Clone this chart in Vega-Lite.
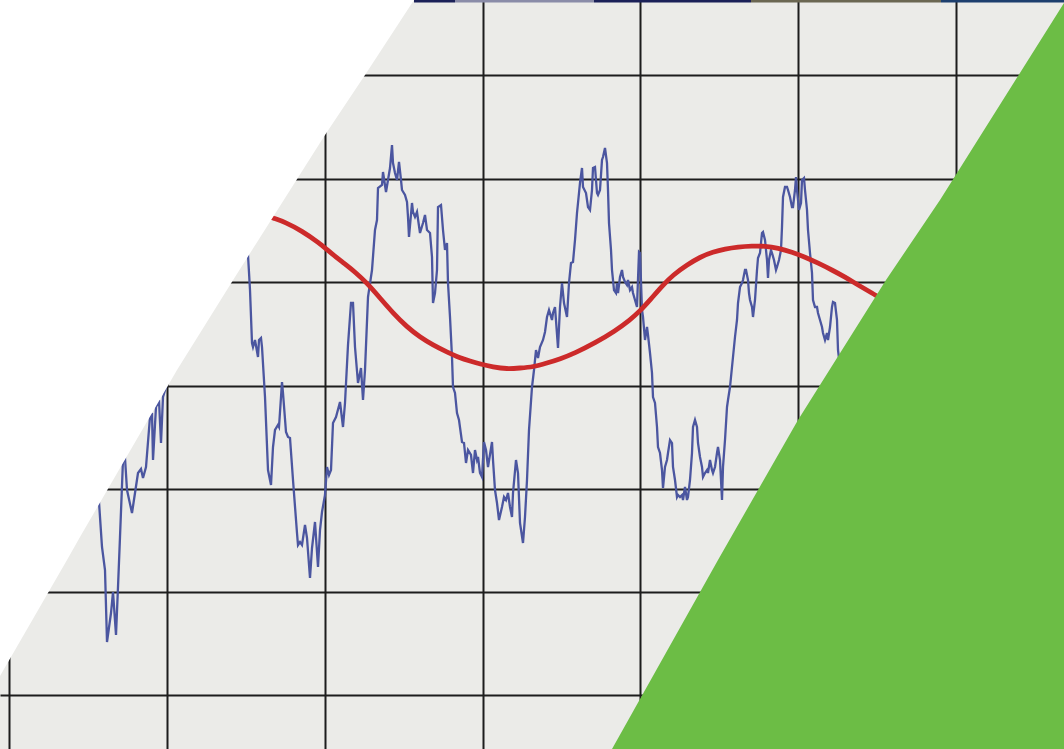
{
  "$schema": "https://vega.github.io/schema/vega-lite/v6.json",
  "autosize": {"type": "fit", "contains": "padding"},
  "width": 1064,
  "height": 749,
  "padding": 0,
  "background": "#ebebe8",
  "config": {"view": {"stroke": null, "fill": "#ebebe8"}},
  "datasets": {
    "signal": [
      {"t": 90, "v": 480}, {"t": 95, "v": 492},
      {"t": 99, "v": 502}, {"t": 102, "v": 547}, {"t": 105, "v": 570}, {"t": 107, "v": 642}, {"t": 111, "v": 613}, {"t": 113, "v": 592}, {"t": 116, "v": 635}, {"t": 118, "v": 587}, {"t": 120, "v": 537}, {"t": 123, "v": 460}, {"t": 125, "v": 458}, {"t": 127, "v": 490}, {"t": 132, "v": 513}, {"t": 135, "v": 493}, {"t": 138, "v": 473}, {"t": 141, "v": 469}, {"t": 143, "v": 478}, {"t": 146, "v": 467}, {"t": 150, "v": 417}, {"t": 152, "v": 413}, {"t": 153, "v": 460}, {"t": 156, "v": 407}, {"t": 159, "v": 400}, {"t": 161, "v": 443}, {"t": 163, "v": 397}, {"t": 166, "v": 387},
      {"t": 170, "v": 370}, {"t": 180, "v": 345}, {"t": 190, "v": 320}, {"t": 200, "v": 300}, {"t": 210, "v": 290}, {"t": 220, "v": 270}, {"t": 230, "v": 262}, {"t": 240, "v": 250},
      {"t": 248, "v": 255}, {"t": 250, "v": 290}, {"t": 252, "v": 343}, {"t": 253, "v": 347}, {"t": 255, "v": 340}, {"t": 258, "v": 357}, {"t": 259, "v": 340}, {"t": 261, "v": 338}, {"t": 262, "v": 347}, {"t": 265, "v": 397}, {"t": 268, "v": 470}, {"t": 271, "v": 485}, {"t": 273, "v": 447}, {"t": 275, "v": 430}, {"t": 278, "v": 425}, {"t": 279, "v": 427}, {"t": 282, "v": 382}, {"t": 283, "v": 393}, {"t": 286, "v": 432}, {"t": 288, "v": 437}, {"t": 290, "v": 438}, {"t": 293, "v": 480}, {"t": 297, "v": 533}, {"t": 298, "v": 545}, {"t": 300, "v": 542}, {"t": 302, "v": 545}, {"t": 305, "v": 525}, {"t": 307, "v": 538}, {"t": 310, "v": 578}, {"t": 312, "v": 548}, {"t": 315, "v": 522}, {"t": 318, "v": 567}, {"t": 320, "v": 530}, {"t": 322, "v": 512}, {"t": 325, "v": 495}, {"t": 327, "v": 467}, {"t": 329, "v": 475}, {"t": 331, "v": 470}, {"t": 333, "v": 423}, {"t": 336, "v": 417}, {"t": 340, "v": 402}, {"t": 343, "v": 427}, {"t": 345, "v": 403}, {"t": 348, "v": 345}, {"t": 351, "v": 303}, {"t": 353, "v": 303},
      {"t": 355, "v": 347}, {"t": 358, "v": 383}, {"t": 361, "v": 368}, {"t": 363, "v": 400}, {"t": 365, "v": 370}, {"t": 368, "v": 297}, {"t": 372, "v": 270}, {"t": 375, "v": 230}, {"t": 377, "v": 220}, {"t": 378, "v": 188}, {"t": 382, "v": 185}, {"t": 383, "v": 172}, {"t": 386, "v": 192}, {"t": 388, "v": 180}, {"t": 390, "v": 168}, {"t": 392, "v": 145}, {"t": 393, "v": 163}, {"t": 395, "v": 173}, {"t": 397, "v": 180}, {"t": 399, "v": 162}, {"t": 401, "v": 180}, {"t": 402, "v": 190}, {"t": 405, "v": 195}, {"t": 407, "v": 202}, {"t": 408, "v": 217}, {"t": 409, "v": 237}, {"t": 412, "v": 203}, {"t": 413, "v": 212}, {"t": 415, "v": 217}, {"t": 417, "v": 212}, {"t": 420, "v": 233}, {"t": 423, "v": 223}, {"t": 425, "v": 215}, {"t": 427, "v": 230}, {"t": 430, "v": 233}, {"t": 432, "v": 257}, {"t": 433, "v": 303}, {"t": 435, "v": 293}, {"t": 437, "v": 270}, {"t": 438, "v": 207}, {"t": 441, "v": 205}, {"t": 443, "v": 230}, {"t": 445, "v": 250}, {"t": 447, "v": 243}, {"t": 448, "v": 283}, {"t": 450, "v": 317}, {"t": 452, "v": 357}, {"t": 453, "v": 387},
      {"t": 455, "v": 393}, {"t": 457, "v": 413}, {"t": 459, "v": 420}, {"t": 462, "v": 442}, {"t": 464, "v": 443}, {"t": 466, "v": 463}, {"t": 468, "v": 450}, {"t": 471, "v": 455}, {"t": 473, "v": 473}, {"t": 475, "v": 450}, {"t": 477, "v": 460}, {"t": 478, "v": 457}, {"t": 480, "v": 473}, {"t": 482, "v": 477}, {"t": 484, "v": 442}, {"t": 486, "v": 450}, {"t": 488, "v": 467}, {"t": 492, "v": 442}, {"t": 493, "v": 460}, {"t": 495, "v": 490}, {"t": 497, "v": 503}, {"t": 499, "v": 520}, {"t": 502, "v": 507}, {"t": 504, "v": 497}, {"t": 506, "v": 500}, {"t": 508, "v": 493}, {"t": 510, "v": 507}, {"t": 512, "v": 517}, {"t": 513, "v": 493}, {"t": 516, "v": 460}, {"t": 518, "v": 473}, {"t": 520, "v": 523}, {"t": 523, "v": 543}, {"t": 525, "v": 517}, {"t": 527, "v": 480}, {"t": 529, "v": 430}, {"t": 532, "v": 387}, {"t": 534, "v": 370}, {"t": 536, "v": 350}, {"t": 538, "v": 358}, {"t": 540, "v": 347}, {"t": 543, "v": 340}, {"t": 545, "v": 332}, {"t": 547, "v": 317}, {"t": 549, "v": 310}, {"t": 552, "v": 320}, {"t": 553, "v": 313},
      {"t": 555, "v": 307}, {"t": 558, "v": 348}, {"t": 560, "v": 307}, {"t": 562, "v": 283}, {"t": 564, "v": 303}, {"t": 567, "v": 317}, {"t": 569, "v": 283}, {"t": 571, "v": 263}, {"t": 573, "v": 262}, {"t": 575, "v": 240}, {"t": 577, "v": 213}, {"t": 578, "v": 203}, {"t": 580, "v": 183}, {"t": 582, "v": 168}, {"t": 583, "v": 187}, {"t": 586, "v": 193}, {"t": 588, "v": 207}, {"t": 590, "v": 210}, {"t": 592, "v": 190}, {"t": 593, "v": 168}, {"t": 595, "v": 167}, {"t": 597, "v": 193}, {"t": 598, "v": 195}, {"t": 600, "v": 190}, {"t": 602, "v": 160}, {"t": 603, "v": 157}, {"t": 605, "v": 148}, {"t": 607, "v": 163}, {"t": 608, "v": 190}, {"t": 609, "v": 223}, {"t": 611, "v": 250}, {"t": 612, "v": 270}, {"t": 614, "v": 290}, {"t": 616, "v": 293}, {"t": 617, "v": 283}, {"t": 618, "v": 293}, {"t": 620, "v": 277}, {"t": 622, "v": 270}, {"t": 623, "v": 277}, {"t": 625, "v": 282}, {"t": 627, "v": 285}, {"t": 628, "v": 280}, {"t": 630, "v": 290}, {"t": 632, "v": 287}, {"t": 633, "v": 293}, {"t": 635, "v": 300}, {"t": 637, "v": 307}, {"t": 639, "v": 252}, {"t": 640, "v": 253}, {"t": 642, "v": 310}, {"t": 643, "v": 317}, {"t": 645, "v": 340}, {"t": 647, "v": 327}, {"t": 648, "v": 335}, {"t": 650, "v": 353},
      {"t": 652, "v": 373}, {"t": 653, "v": 397}, {"t": 655, "v": 403}, {"t": 657, "v": 427}, {"t": 658, "v": 447}, {"t": 660, "v": 453}, {"t": 662, "v": 470}, {"t": 663, "v": 488}, {"t": 665, "v": 467}, {"t": 667, "v": 460}, {"t": 668, "v": 453}, {"t": 670, "v": 440}, {"t": 672, "v": 443}, {"t": 673, "v": 467}, {"t": 675, "v": 480}, {"t": 677, "v": 497}, {"t": 678, "v": 495}, {"t": 680, "v": 497}, {"t": 682, "v": 495}, {"t": 683, "v": 500}, {"t": 685, "v": 487}, {"t": 687, "v": 500}, {"t": 688, "v": 497}, {"t": 690, "v": 480}, {"t": 692, "v": 453}, {"t": 693, "v": 427}, {"t": 695, "v": 420}, {"t": 697, "v": 427}, {"t": 698, "v": 443}, {"t": 700, "v": 457}, {"t": 702, "v": 467}, {"t": 703, "v": 477}, {"t": 705, "v": 473}, {"t": 707, "v": 470}, {"t": 708, "v": 473}, {"t": 710, "v": 460}, {"t": 712, "v": 470}, {"t": 713, "v": 473}, {"t": 715, "v": 467}, {"t": 717, "v": 453}, {"t": 718, "v": 447}, {"t": 720, "v": 460}, {"t": 722, "v": 500}, {"t": 723, "v": 467}, {"t": 725, "v": 440}, {"t": 727, "v": 407}, {"t": 728, "v": 400}, {"t": 730, "v": 387}, {"t": 732, "v": 367}, {"t": 733, "v": 357}, {"t": 735, "v": 337}, {"t": 737, "v": 320}, {"t": 738, "v": 303}, {"t": 740, "v": 287}, {"t": 742, "v": 283}, {"t": 743, "v": 280}, {"t": 745, "v": 270},
      {"t": 746, "v": 270}, {"t": 748, "v": 280}, {"t": 749, "v": 293}, {"t": 750, "v": 300}, {"t": 752, "v": 307}, {"t": 753, "v": 317}, {"t": 755, "v": 300}, {"t": 757, "v": 270}, {"t": 758, "v": 258}, {"t": 760, "v": 253}, {"t": 762, "v": 233}, {"t": 763, "v": 232}, {"t": 765, "v": 240}, {"t": 767, "v": 260}, {"t": 768, "v": 278}, {"t": 769, "v": 260}, {"t": 771, "v": 250}, {"t": 772, "v": 253}, {"t": 774, "v": 260}, {"t": 776, "v": 270}, {"t": 777, "v": 267}, {"t": 779, "v": 260}, {"t": 781, "v": 250}, {"t": 782, "v": 227}, {"t": 783, "v": 197}, {"t": 785, "v": 187}, {"t": 787, "v": 187}, {"t": 788, "v": 190}, {"t": 790, "v": 197}, {"t": 792, "v": 207}, {"t": 793, "v": 207}, {"t": 795, "v": 190}, {"t": 796, "v": 177}, {"t": 797, "v": 190}, {"t": 799, "v": 210}, {"t": 801, "v": 203}, {"t": 802, "v": 180}, {"t": 804, "v": 178}, {"t": 805, "v": 190}, {"t": 807, "v": 210}, {"t": 808, "v": 230}, {"t": 810, "v": 253}, {"t": 812, "v": 273}, {"t": 813, "v": 300}, {"t": 815, "v": 307}, {"t": 817, "v": 307}, {"t": 818, "v": 313}, {"t": 820, "v": 320}, {"t": 822, "v": 327}, {"t": 823, "v": 333}, {"t": 825, "v": 340}, {"t": 827, "v": 333}, {"t": 828, "v": 340}, {"t": 830, "v": 327}, {"t": 832, "v": 307}, {"t": 833, "v": 302}, {"t": 835, "v": 303}, {"t": 837, "v": 320}, {"t": 838, "v": 350}, {"t": 840, "v": 367},
      {"t": 845, "v": 385}, {"t": 850, "v": 395}, {"t": 860, "v": 410}
    ],
    "trend": [
      {"t": 240, "v": 216}, {"t": 255, "v": 214}, {"t": 265, "v": 215}, {"t": 273, "v": 218}, {"t": 285, "v": 222}, {"t": 302, "v": 231}, {"t": 318, "v": 242}, {"t": 332, "v": 254}, {"t": 345, "v": 264}, {"t": 355, "v": 272}, {"t": 367, "v": 283}, {"t": 380, "v": 298}, {"t": 393, "v": 313}, {"t": 407, "v": 327}, {"t": 420, "v": 337}, {"t": 433, "v": 345}, {"t": 447, "v": 352}, {"t": 460, "v": 358}, {"t": 470, "v": 361}, {"t": 480, "v": 364}, {"t": 493, "v": 367}, {"t": 507, "v": 369}, {"t": 520, "v": 368}, {"t": 533, "v": 367}, {"t": 547, "v": 363}, {"t": 560, "v": 359}, {"t": 575, "v": 353}, {"t": 595, "v": 343}, {"t": 615, "v": 331}, {"t": 630, "v": 320}, {"t": 640, "v": 311}, {"t": 650, "v": 300}, {"t": 663, "v": 285}, {"t": 673, "v": 275}, {"t": 687, "v": 265}, {"t": 700, "v": 257}, {"t": 713, "v": 252}, {"t": 725, "v": 249}, {"t": 738, "v": 247}, {"t": 752, "v": 246}, {"t": 765, "v": 246}, {"t": 778, "v": 248}, {"t": 792, "v": 252}, {"t": 805, "v": 257}, {"t": 818, "v": 263}, {"t": 832, "v": 270}, {"t": 845, "v": 277}, {"t": 858, "v": 285}, {"t": 872, "v": 293}, {"t": 885, "v": 301}, {"t": 900, "v": 310}
    ],
    "leftMask": [
      {"t": 0, "top": 0, "edge": 676}, {"t": 67, "top": 0, "edge": 560}, {"t": 80, "top": 0, "edge": 537}, {"t": 177, "top": 0, "edge": 370}, {"t": 235, "top": 0, "edge": 277}, {"t": 325, "top": 0, "edge": 135}, {"t": 365, "top": 0, "edge": 75}, {"t": 414, "top": 0, "edge": 0}
    ],
    "rightWedge": [
      {"t": 612, "edge": 749, "base": 749}, {"t": 718, "edge": 560, "base": 749}, {"t": 798, "edge": 420, "base": 749}, {"t": 886, "edge": 280, "base": 749}, {"t": 940, "edge": 200, "base": 749}, {"t": 1064, "edge": 3, "base": 749}
    ],
    "strip": [
      {"t": 414, "t2": 455, "tone": "navy"}, {"t": 455, "t2": 594, "tone": "haze"}, {"t": 594, "t2": 751, "tone": "navy"}, {"t": 751, "t2": 941, "tone": "olive"}, {"t": 941, "t2": 1064, "tone": "steel"}
    ]
  },
  "layer": [
    {
      "data": {"name": "signal"},
      "mark": {"type": "line", "color": "#4b56a0", "strokeWidth": 2.3, "clip": true},
      "encoding": {
        "x": {
          "field": "t", "type": "quantitative",
          "scale": {"domain": [0, 1064], "nice": false, "zero": false},
          "axis": {"values": [9, 167, 325, 483, 640, 798, 956], "grid": true, "labels": false, "ticks": false, "domain": false, "title": null, "gridColor": "#1c1c1c", "gridWidth": 2, "gridOpacity": 1}
        },
        "y": {
          "field": "v", "type": "quantitative",
          "scale": {"domain": [0, 749], "nice": false, "zero": false, "reverse": true},
          "axis": {"values": [75, 179, 282, 386, 489, 592, 695], "grid": true, "labels": false, "ticks": false, "domain": false, "title": null, "gridColor": "#1c1c1c", "gridWidth": 2, "gridOpacity": 1}
        }
      }
    },
    {
      "data": {"name": "trend"},
      "mark": {"type": "line", "color": "#cc2a2a", "strokeWidth": 4.8, "interpolate": "basis", "clip": true},
      "encoding": {
        "x": {"field": "t", "type": "quantitative"},
        "y": {"field": "v", "type": "quantitative"}
      }
    },
    {
      "data": {"name": "leftMask"},
      "mark": {"type": "area", "orient": "vertical", "color": "#ffffff", "opacity": 1, "clip": true},
      "encoding": {
        "x": {"field": "t", "type": "quantitative"},
        "y": {"field": "top", "type": "quantitative"},
        "y2": {"field": "edge"}
      }
    },
    {
      "data": {"name": "rightWedge"},
      "mark": {"type": "area", "orient": "vertical", "color": "#6cbd45", "opacity": 1, "clip": true},
      "encoding": {
        "x": {"field": "t", "type": "quantitative"},
        "y": {"field": "edge", "type": "quantitative"},
        "y2": {"field": "base"}
      }
    },
    {
      "data": {"name": "strip"},
      "mark": {"type": "rule", "strokeWidth": 3, "clip": true},
      "encoding": {
        "x": {"field": "t", "type": "quantitative"},
        "x2": {"field": "t2"},
        "y": {"datum": 1},
        "color": {
          "field": "tone", "type": "nominal", "legend": null,
          "scale": {"domain": ["navy", "haze", "olive", "steel"], "range": ["#1b2158", "#8a8ca8", "#6b6752", "#1d3f6e"]}
        }
      }
    }
  ]
}
